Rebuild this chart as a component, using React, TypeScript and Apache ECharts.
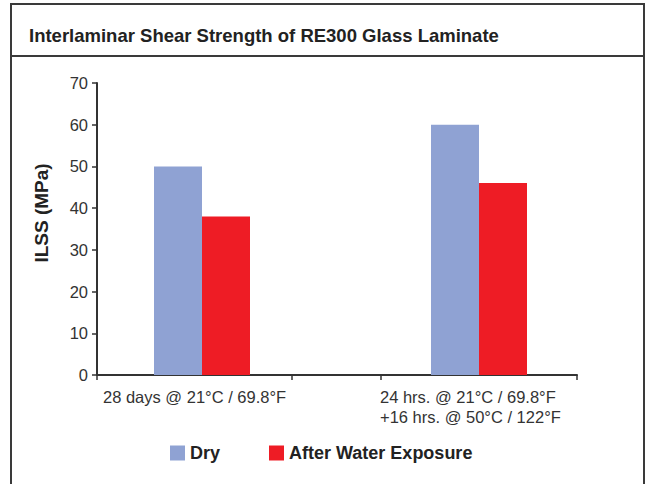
import React, { useEffect, useRef } from "react";
import * as echarts from "echarts";

// ---- data ----
const titleText = "Interlaminar Shear Strength of RE300 Glass Laminate";
const yAxisName = "ILSS (MPa)";
const categories = [
  "28 days @ 21°C / 69.8°F",
  "24 hrs. @ 21°C / 69.8°F\n+16 hrs. @ 50°C / 122°F",
];
const seriesNames = ["Dry", "After Water Exposure"];
const dryValues = [50, 60];
const waterValues = [38, 46];
const yMin = 0;
const yMax = 70;
const yInterval = 10;

// ---- layout along a 0..480 horizontal scale (matches the original's uneven spacing) ----
const xScaleMax = 480;
const groupCenters = [105, 382];
const xTickStops = [0, 195, 284, 480];
const xLabelStarts = [6, 283];

const FONT = "'Liberation Sans', Arial, Helvetica, sans-serif";

export default function App() {
  const ref = useRef<HTMLDivElement>(null);

  useEffect(() => {
    document.body.style.margin = "0";
    if (!ref.current) return;
    const chart = echarts.init(ref.current, undefined, { renderer: "svg" });
    const option: any = {
      animation: false,
      backgroundColor: "#ffffff",
      textStyle: { fontFamily: FONT },
      title: {
        text: titleText,
        left: 24,
        top: 21,
        textStyle: { fontSize: 18.5, fontWeight: "bold", color: "#222", fontFamily: FONT },
      },
      graphic: [
        {
          type: "rect",
          silent: true,
          z: -1,
          shape: { x: 11, y: 4, width: 633, height: 520 },
          style: { fill: "none", stroke: "#3a3a3a", lineWidth: 2 },
        },
        {
          type: "line",
          silent: true,
          z: -1,
          shape: { x1: 11, y1: 56, x2: 644, y2: 56 },
          style: { stroke: "#3a3a3a", lineWidth: 2 },
        },
      ],
      legend: {
        data: seriesNames,
        left: 165,
        top: 439,
        icon: "rect",
        itemWidth: 15,
        itemHeight: 15,
        itemGap: 49,
        textStyle: { fontSize: 18, fontWeight: "bold", color: "#222", fontFamily: FONT },
      },
      grid: { left: 97, right: 72, top: 83, bottom: 109 },
      xAxis: {
        type: "value",
        min: 0,
        max: xScaleMax,
        splitLine: { show: false },
        axisLine: { show: true, onZero: false, lineStyle: { color: "#333", width: 2 } },
        axisTick: {
          show: true,
          customValues: xTickStops,
          length: 5,
          lineStyle: { color: "#333", width: 1.5 },
        },
        axisLabel: {
          customValues: xLabelStarts,
          formatter: (v: number) => {
            const i = xLabelStarts.indexOf(v);
            return i >= 0 ? categories[i] : "";
          },
          align: "left",
          fontSize: 16.5,
          lineHeight: 20,
          color: "#333",
          margin: 12,
          fontFamily: FONT,
        },
      },
      yAxis: {
        type: "value",
        min: yMin,
        max: yMax,
        interval: yInterval,
        name: yAxisName,
        nameLocation: "middle",
        nameGap: 46,
        nameTextStyle: {
          fontSize: 19,
          fontWeight: "bold",
          color: "#222",
          fontFamily: FONT,
          padding: [0, 0, 0, 32],
        },
        splitLine: { show: false },
        axisLine: { show: true, lineStyle: { color: "#333", width: 2 } },
        axisTick: { show: true, length: 5, lineStyle: { color: "#333", width: 1.5 } },
        axisLabel: { fontSize: 16.5, color: "#333", margin: 9, fontFamily: FONT },
      },
      series: [
        {
          type: "bar",
          name: seriesNames[0],
          data: dryValues.map((v, i) => [groupCenters[i], v]),
          barWidth: 48,
          barGap: "0%",
          itemStyle: { color: "#8FA2D3" },
        },
        {
          type: "bar",
          name: seriesNames[1],
          data: waterValues.map((v, i) => [groupCenters[i], v]),
          barWidth: 48,
          barGap: "0%",
          itemStyle: { color: "#EE1C25" },
        },
      ],
    };
    chart.setOption(option);
    return () => chart.dispose();
  }, []);

  return (
    <div
      ref={ref}
      style={{ position: "absolute", left: 0, top: 0, width: 649, height: 484 }}
    />
  );
}
